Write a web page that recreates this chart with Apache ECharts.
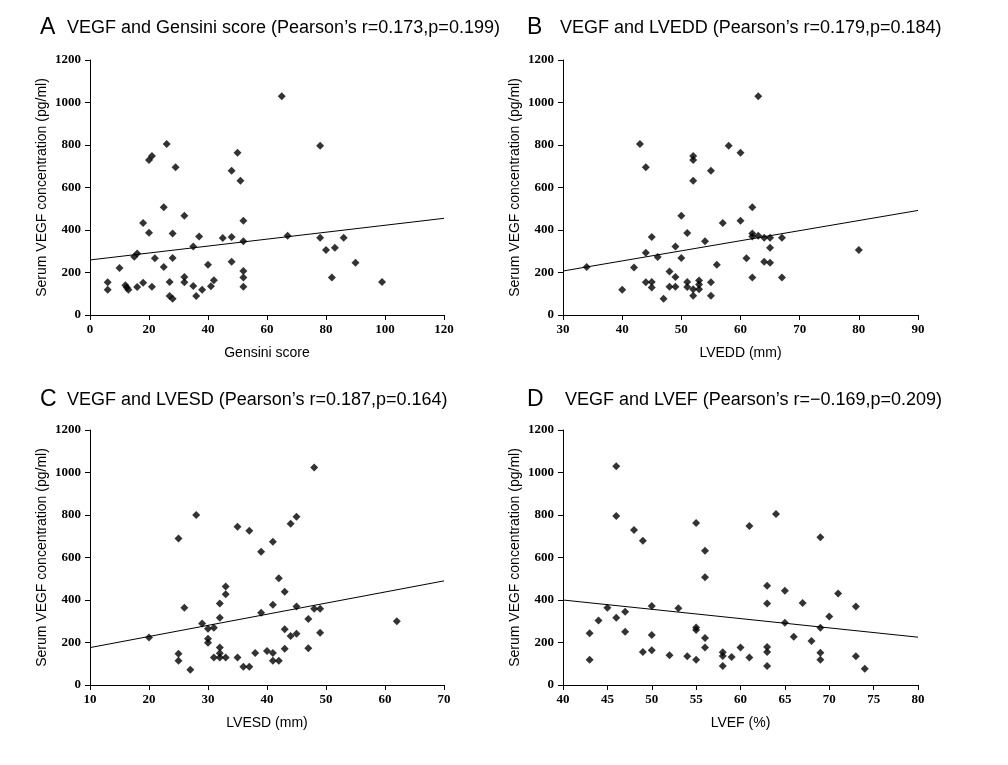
<!DOCTYPE html>
<html><head><meta charset="utf-8">
<script src="https://cdn.jsdelivr.net/npm/echarts/dist/echarts.min.js"></script>
<style>html,body{margin:0;padding:0;background:#fff}#c{width:1008px;height:765px}</style>
</head><body><div id="c"></div>
<script>
// ---- data ----
const gensiniPts = [[6,154],[6,119],[10,221],[12,140],[12.5,129],[13,119],[15,274],[16,290],[16,132],[18,433],[18,152],[20,387],[20,729],[21,748],[21,133],[22,267],[25,226],[25,507],[26,805],[27,155],[27,89],[28,77],[28,383],[28,268],[29,695],[32,467],[32,179],[32,154],[35,322],[35,136],[36,89],[37,369],[38,119],[40,237],[41,135],[42,163],[45,362],[48,367],[48,679],[48,251],[50,764],[51,632],[52,444],[52,347],[52,207],[52,176],[52,133],[65,1029],[67,373],[78,797],[78,364],[80,306],[82,177],[83,317],[86,364],[90,246],[99,155]];
const lveddPts = [[34,226],[40,119],[42,223],[43,805],[44,695],[44,293],[44,154],[45,367],[45,155],[45,129],[46,273],[47,77],[48,205],[48,133],[49,322],[49,179],[49,133],[50,467],[50,268],[51,386],[51,155],[51,132],[52,748],[52,729],[52,632],[52,121],[52,91],[53,162],[53,144],[53,121],[54,347],[55,679],[55,154],[55,91],[56,237],[57,433],[58,797],[60,764],[60,444],[61,267],[62,507],[62,383],[62,369],[62,176],[63,1029],[63,373],[64,364],[64,251],[65,364],[65,317],[65,246],[67,364],[67,177],[80,306]];
const lvesdPts = [[20,223],[25,690],[25,147],[25,114],[26,364],[27,72],[28,800],[29,289],[30,265],[30,218],[30,199],[31,270],[31,130],[32,383],[32,317],[32,176],[32,149],[32,130],[33,463],[33,427],[33,130],[35,745],[35,130],[36,86],[37,726],[37,86],[38,151],[39,627],[39,340],[40,160],[41,674],[41,378],[41,151],[41,114],[42,502],[42,114],[43,439],[43,262],[43,171],[44,759],[44,231],[45,792],[45,369],[45,241],[47,311],[47,173],[48,1024],[48,359],[49,359],[49,246],[62,300]];
const lvefPts = [[43,243],[43,119],[44,304],[45,364],[46,1029],[46,795],[46,317],[47,345],[47,251],[48,729],[49,679],[49,155],[50,372],[50,235],[50,163],[52,140],[53,361],[54,135],[55,762],[55,271],[55,259],[55,119],[56,632],[56,507],[56,221],[56,177],[58,154],[58,137],[58,89],[59,132],[60,176],[61,748],[61,129],[63,467],[63,383],[63,179],[63,155],[63,89],[64,805],[65,444],[65,293],[66,227],[67,386],[68,207],[69,695],[69,270],[69,152],[69,119],[70,322],[71,431],[73,369],[73,135],[74,77]];
const gensiniFit = [[0,259],[120,455]];
const lveddFit = [[30,207],[90,492]];
const lvesdFit = [[10,176],[70,490]];
const lvefFit = [[40,400],[80,225]];
const panelLetters = ['A','B','C','D'];
const panelTitles = ['VEGF and Gensini score (Pearson\u2019s r=0.173,p=0.199)','VEGF and LVEDD (Pearson\u2019s r=0.179,p=0.184)','VEGF and LVESD (Pearson\u2019s r=0.187,p=0.164)','VEGF and LVEF (Pearson\u2019s r=\u22120.169,p=0.209)'];
const xNames = ['Gensini score','LVEDD (mm)','LVESD (mm)','LVEF (%)'];
const xRanges = [[0,120,20],[30,90,10],[10,70,10],[40,80,5]];
const yName = 'Serum VEGF concentration (pg/ml)';
const yRange = [0,1200,200];

const pts = [gensiniPts, lveddPts, lvesdPts, lvefPts];
const fits = [gensiniFit, lveddFit, lvesdFit, lvefFit];
const grids = [
  {left:90, top:60, width:354, height:255},
  {left:563, top:60, width:355, height:255},
  {left:90, top:430, width:354, height:255},
  {left:563, top:430, width:355, height:255}
];
const titlePos = [[40,67,28],[527,560,28],[40,67,400],[527,565,400]];

const tickFont = {fontFamily:'Liberation Serif', fontWeight:'bold', fontSize:13, color:'#000'};
const nameFont = {fontFamily:'Liberation Sans', fontSize:14, color:'#000'};
const axisLine = {show:true, lineStyle:{color:'#000', width:1}};
const plain = v => String(v);

const option = {
  backgroundColor:'#fff',
  animation:false,
  grid: grids,
  xAxis: grids.map((g,i)=>({
    type:'value', gridIndex:i, min:xRanges[i][0], max:xRanges[i][1], interval:xRanges[i][2],
    axisLine:axisLine, axisTick:{show:true, inside:false, length:5, lineStyle:{color:'#000'}},
    axisLabel:Object.assign({margin:8, formatter:plain}, tickFont), splitLine:{show:false},
    name:xNames[i], nameLocation:'middle', nameGap:31, nameTextStyle:nameFont
  })),
  yAxis: grids.map((g,i)=>({
    type:'value', gridIndex:i, min:yRange[0], max:yRange[1], interval:yRange[2],
    axisLine:axisLine, axisTick:{show:true, inside:false, length:5, lineStyle:{color:'#000'}},
    axisLabel:Object.assign({margin:9, formatter:plain}, tickFont), splitLine:{show:false},
    name:yName, nameLocation:'middle', nameGap:41, nameTextStyle:nameFont
  })),
  series: [].concat(
    pts.map((p,i)=>({type:'scatter', xAxisIndex:i, yAxisIndex:i, data:p, symbol:'diamond', symbolSize:8, itemStyle:{color:'#000'}, silent:true})),
    fits.map((f,i)=>({type:'line', xAxisIndex:i, yAxisIndex:i, data:f, showSymbol:false, symbol:'none', lineStyle:{color:'#000', width:1}, silent:true}))
  ),
  graphic: [].concat(
    titlePos.map((t,i)=>({type:'text', x:t[0], y:t[2], style:{text:panelLetters[i], font:'23px "Liberation Sans"', fill:'#000', textVerticalAlign:'middle'}})),
    titlePos.map((t,i)=>({type:'text', x:t[1], y:t[2], style:{text:panelTitles[i], font:'18px "Liberation Sans"', fill:'#000', textVerticalAlign:'middle'}}))
  )
};
const chart = echarts.init(document.getElementById('c'), null, {renderer:'canvas'});
chart.setOption(option);
</script></body></html>
